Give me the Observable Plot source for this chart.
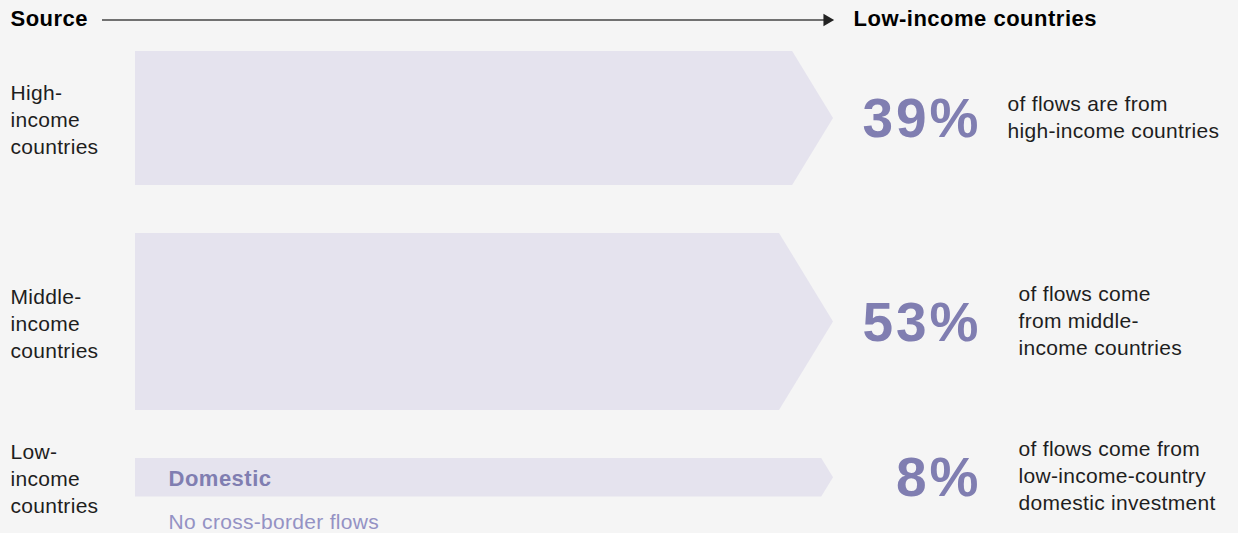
<!DOCTYPE html>
<html><head><meta charset="utf-8">
<script src="https://cdn.jsdelivr.net/npm/d3@7"></script>
<script src="https://cdn.jsdelivr.net/npm/@observablehq/plot@0.6"></script>
<style>
html,body{margin:0;padding:0;background:#f5f5f5;}
#chart svg{display:block}
</style></head><body><div id="chart"></div>
<script>
// ---- data ----
const sources = ["High-\nincome\ncountries", "Middle-\nincome\ncountries", "Low-\nincome\ncountries"];
const shares = [39, 53, 8];
const shareLabels = ["39%", "53%", "8%"];
const descriptions = [
  "of flows are from\nhigh-income countries",
  "of flows come\nfrom middle-\nincome countries",
  "of flows come from\nlow-income-country\ndomestic investment"
];
const flowLabels = ["", "", "Domestic"];
const flowNotes = ["", "", "No cross-border flows"];
const headerSource = "Source";
const headerTarget = "Low-income countries";

// ---- layout & style ----
const W = 1238, H = 533;
const FONT = '"Liberation Sans", Arial, Helvetica, sans-serif';
const PURPLE = "#807eb1", FILL = "#e5e3ee", INK = "#1e1e1e", NOTE = "#9492c4";
const spanPx = 698;          // pixels from arrow tail to arrow tip
const thickness = d3.scaleLinear().domain([0, 53]).range([14, 177]);
const top0 = 51, gap = 48;

const rows = [];
let t = top0;
sources.forEach((s, i) => {
  const h = thickness(shares[i]);
  rows.push({i, source: s, share: shares[i], label: shareLabels[i], desc: descriptions[i],
    flow: flowLabels[i], note: flowNotes[i], top: t, bottom: t + h, mid: t + h / 2, half: h / 2});
  t += h + gap;
});
const arrowPts = rows.flatMap(r => {
  const d = 0.61 * r.half / spanPx;
  return [
    {row: r.i, x: 0, y1: r.top, y2: r.bottom},
    {row: r.i, x: 1 - d, y1: r.top, y2: r.bottom},
    {row: r.i, x: 1, y1: r.mid, y2: r.mid}
  ];
});

const chart = Plot.plot({
  width: W, height: H,
  marginTop: 0, marginBottom: 0, marginLeft: 135, marginRight: W - 135 - spanPx,
  x: {domain: [0, 1], axis: null},
  y: {domain: [0, H], range: [0, H], axis: null},
  style: {background: "#f5f5f5", fontFamily: FONT, letterSpacing: "0.3px"},
  marks: [
    Plot.areaY(arrowPts, {x: "x", y1: "y1", y2: "y2", z: "row", fill: FILL, curve: "linear"}),
    // header
    Plot.ruleY([0], {x1: -33 / spanPx, x2: 1 - 8 / spanPx, dy: 19.5, stroke: "#444", strokeWidth: 1.3}),
    Plot.dot([0], {x: 1 - 6.5 / spanPx, y: 0, dy: 19.5, symbol: "triangle", rotate: 90, r: 4.6, fill: "#222", stroke: "none"}),
    Plot.text([headerSource], {frameAnchor: "top-left", lineAnchor: "top", dx: -125, dy: 9.5,
      fontSize: 22, fontWeight: "bold", fill: "#000", textAnchor: "start"}),
    Plot.text([headerTarget], {x: 1, frameAnchor: "top", lineAnchor: "top", dx: 20, dy: 9.5,
      fontSize: 22, fontWeight: "bold", fill: "#000", textAnchor: "start"}),
    // left labels
    Plot.text(rows, {x: 0, y: "mid", text: "source", dx: -125, dy: 0, textAnchor: "start",
      fontSize: 21, lineHeight: 27 / 21, fill: INK}),
    // percentages
    Plot.text(rows, {x: 1, y: "mid", text: "label", dx: 148, dy: 1, textAnchor: "end",
      fontSize: 55, fontWeight: "bold", fill: PURPLE}),
    // descriptions
    Plot.text(rows.filter(r => r.i === 0), {x: 1, y: "mid", text: "desc", dx: 174, dy: -3, textAnchor: "start",
      fontSize: 21, lineHeight: 27 / 21, fill: INK}),
    Plot.text(rows.filter(r => r.i > 0), {x: 1, y: "mid", text: "desc", dx: 185, dy: -3, textAnchor: "start",
      fontSize: 21, lineHeight: 27 / 21, fill: INK}),
    // flow label inside arrow and note
    Plot.text(rows.filter(r => r.flow), {x: 0, y: "mid", text: "flow", dx: 33, dy: 1, textAnchor: "start",
      fontSize: 22, fontWeight: "bold", fill: PURPLE}),
    Plot.text(rows.filter(r => r.note), {x: 0, y: "bottom", text: "note", dx: 33, dy: 25, textAnchor: "start",
      fontSize: 21, fill: NOTE})
  ]
});
chart.querySelectorAll('g[font-size="55"]').forEach(g => g.setAttribute("letter-spacing", "3px"));
chart.querySelectorAll('g[font-size="22"]').forEach(g => g.setAttribute("letter-spacing", "0.5px"));
document.getElementById("chart").appendChild(chart);
</script>
</body></html>
